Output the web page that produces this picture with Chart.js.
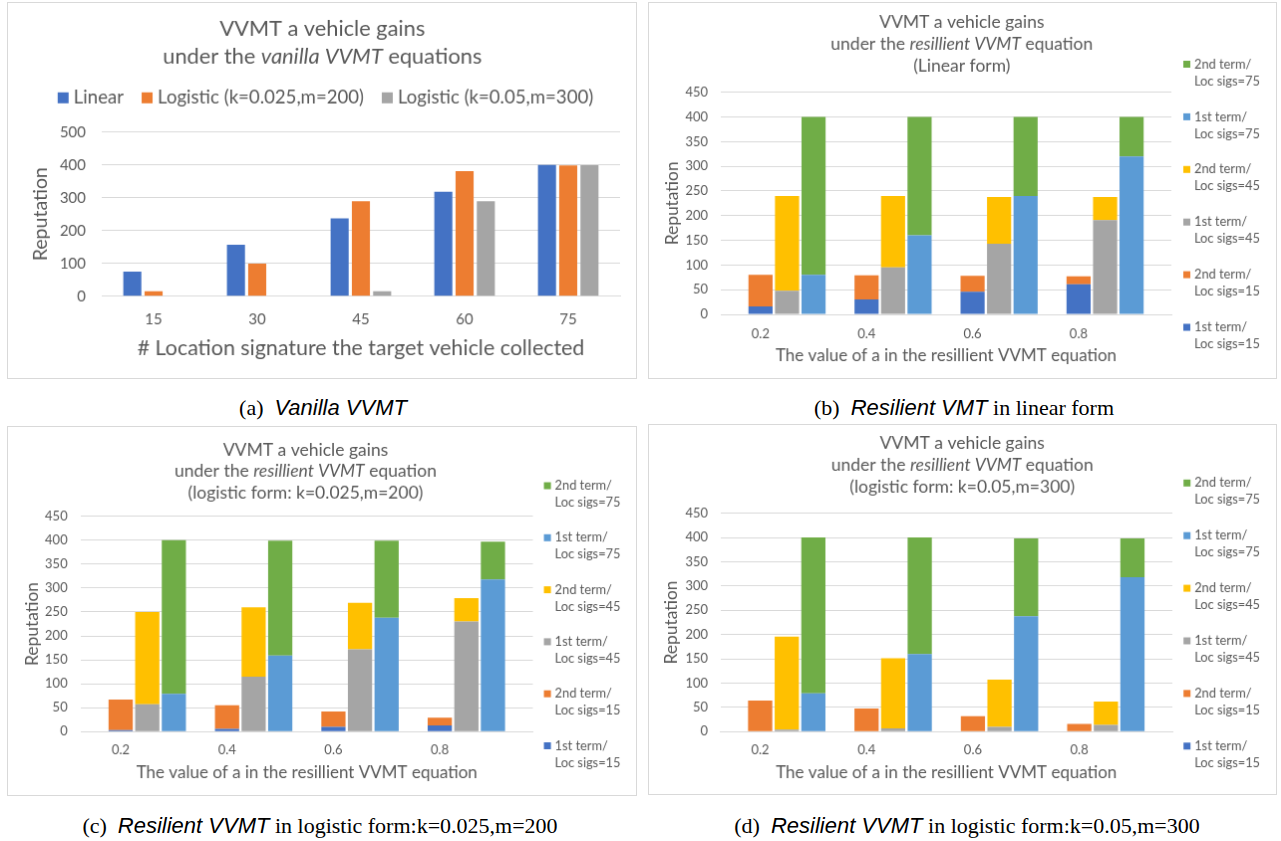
<!DOCTYPE html>
<html>
<head>
<meta charset="utf-8">
<script src="https://cdn.jsdelivr.net/npm/chart.js@4.4.1/dist/chart.umd.min.js"></script>
<style>
body { margin: 0; background: #fff; width: 1281px; height: 841px; position: relative; overflow: hidden; }
canvas { position: absolute; border: 1px solid #d9d9d9; }
.cap { position: absolute; font-family: 'Liberation Serif', serif; font-size: 22px; line-height: 24px; color: #000; white-space: nowrap; transform: translateX(-50%); }
.cap i { font-family: 'Liberation Sans', sans-serif; }
</style>
</head>
<body>
<canvas id="chartA" width="630" height="377" style="left:7px;top:2px"></canvas>
<canvas id="chartB" width="629" height="377" style="left:648px;top:2px"></canvas>
<canvas id="chartC" width="630" height="370" style="left:7px;top:426px"></canvas>
<canvas id="chartD" width="629" height="371" style="left:648px;top:424px"></canvas>
<div class="cap" style="left:323px;top:396px">(a)&nbsp; <i>Vanilla VVMT</i></div>
<div class="cap" style="left:964px;top:396px">(b)&nbsp; <i>Resilient VMT</i> in linear form</div>
<div class="cap" style="left:320px;top:814px">(c)&nbsp; <i>Resilient VVMT</i> in logistic form:k=0.025,m=200</div>
<div class="cap" style="left:967px;top:814px">(d)&nbsp; <i>Resilient VVMT</i> in logistic form:k=0.05,m=300</div>
<script>
// (a) vanilla VVMT
var locSigs = ['15', '30', '45', '60', '75'];
var vanLinear = [75, 157, 237, 318, 400];
var vanLogistic1 = [15, 99, 289, 381, 398];
var vanLogistic2 = [0, 0, 15, 289, 399];

// x values of a in the resilient equation
var aValues = ['0.2', '0.4', '0.6', '0.8'];

// (b) linear form
var linFirst15 = [16, 30, 46, 61];
var linSecond15 = [64, 49, 32, 16];
var linFirst45 = [48, 95, 143, 191];
var linSecond45 = [192, 145, 95, 47];
var linFirst75 = [80, 160, 240, 320];
var linSecond75 = [320, 240, 160, 80];

// (c) logistic k=0.025, m=200
var logAFirst15 = [3, 6, 10, 13];
var logASecond15 = [64, 49, 32, 16];
var logAFirst45 = [57, 115, 172, 230];
var logASecond45 = [193, 145, 97, 49];
var logAFirst75 = [79, 159, 238, 318];
var logASecond75 = [321, 240, 161, 79];

// (d) logistic k=0.05, m=300
var logBFirst15 = [0, 0, 0, 0];
var logBSecond15 = [64, 48, 32, 16];
var logBFirst45 = [4, 7, 10, 14];
var logBSecond45 = [192, 144, 97, 48];
var logBFirst75 = [79, 160, 238, 318];
var logBSecond75 = [321, 240, 160, 80];

var FONT = 'Lato';
var GREY = '#595959';
var GRID = '#d9d9d9';

// titles and legends drawn on the canvas (mixed italic text)
var panelText = {
    id: 'panelText',
    afterDraw: function(chart, args, opts) {
        var ctx = chart.ctx;
        ctx.save();
        ctx.fillStyle = GREY;
        ctx.textBaseline = 'middle';
        ctx.textAlign = 'left';
        opts.title.forEach(function(line, i) {
            var parts = line.map(function(p) {
                ctx.font = (p[1] ? 'italic ' : '') + opts.titleSize + 'px ' + FONT;
                return { t: p[0], f: ctx.font, w: ctx.measureText(p[0]).width };
            });
            var total = parts.reduce(function(s, p) { return s + p.w; }, 0);
            var x = opts.titleX - total / 2;
            parts.forEach(function(p) {
                ctx.font = p.f;
                ctx.fillText(p.t, x, opts.titleY[i]);
                x += p.w;
            });
        });
        var lg = opts.legend;
        var sets = chart.data.datasets;
        ctx.font = lg.size + 'px ' + FONT;
        if (lg.side) {
            sets.slice().reverse().forEach(function(ds, i) {
                var y = lg.y + i * lg.step;
                var cut = ds.label.indexOf('/') + 1;
                ctx.fillStyle = ds.backgroundColor;
                ctx.fillRect(lg.x, y - lg.box / 2, lg.box, lg.box);
                ctx.fillStyle = GREY;
                ctx.fillText(ds.label.slice(0, cut), lg.textX, y);
                ctx.fillText(ds.label.slice(cut), lg.textX, y + lg.lineGap);
            });
        } else {
            var widths = sets.map(function(ds) { return ctx.measureText(ds.label).width; });
            var total = widths.reduce(function(s, w) { return s + w + lg.box + lg.gap; }, 0) + lg.space * (sets.length - 1);
            var x = lg.x - total / 2;
            sets.forEach(function(ds, i) {
                ctx.fillStyle = ds.backgroundColor;
                ctx.fillRect(x, lg.y - lg.box / 2, lg.box, lg.box);
                ctx.fillStyle = GREY;
                ctx.fillText(ds.label, x + lg.box + lg.gap, lg.y);
                x += lg.box + lg.gap + widths[i] + lg.space;
            });
        }
        ctx.restore();
    }
};

function axisFont(size) { return { family: FONT, size: size }; }

// vanilla chart
new Chart(document.getElementById('chartA'), {
    type: 'bar',
    data: {
        labels: locSigs,
        datasets: [
            { label: 'Linear', data: vanLinear, backgroundColor: '#4472C4' },
            { label: 'Logistic (k=0.025,m=200)', data: vanLogistic1, backgroundColor: '#ED7D31' },
            { label: 'Logistic (k=0.05,m=300)', data: vanLogistic2, backgroundColor: '#A5A5A5' }
        ]
    },
    options: {
        responsive: false,
        animation: false,
        categoryPercentage: 0.615,
        barPercentage: 0.85,
        layout: { padding: { top: 129.7, right: 16, bottom: 0, left: 0 } },
        plugins: {
            legend: { display: false },
            tooltip: { enabled: false },
            panelText: {
                title: [[['VVMT a vehicle gains']], [['under the '], ['vanilla VVMT', true], [' equations']]],
                titleX: 315.3, titleY: [26.3, 54.3], titleSize: 21.8,
                legend: { side: false, x: 318.5, y: 95.3, size: 18.6, box: 11, gap: 5, space: 18 }
            }
        },
        scales: {
            x: {
                grid: { display: false, drawTicks: false },
                border: { color: GRID },
                ticks: { color: GREY, font: axisFont(15), padding: 14.3 },
                title: { display: true, text: '# Location signature the target vehicle collected', color: GREY,
                         font: axisFont(21.4), padding: { top: 0, bottom: 17.2 } },
                afterFit: function(s) { s.height = 82.3; }
            },
            y: {
                min: 0, max: 500,
                grid: { color: GRID, drawTicks: false },
                border: { display: false },
                ticks: { stepSize: 100, color: GREY, font: axisFont(15), padding: 16 },
                title: { display: true, text: 'Reputation', color: GREY, font: axisFont(19.5), padding: { top: 21.3, bottom: 0 } },
                afterFit: function(s) { s.width = 94; }
            }
        }
    },
    plugins: [panelText]
});

// resilient charts: 17 slots, one blank slot between groups of three stacks
function slotData(values, member) {
    var out = [];
    for (var s = 0; s < aValues.length * 4 + 1; s++) out.push(null);
    values.forEach(function(v, i) { out[1 + 4 * i + member] = v; });
    return out;
}
var slotLabels = [''];
aValues.forEach(function(a) { slotLabels.push(a, '', '', ''); });

function termSets(f15, s15, f45, s45, f75, s75) {
    return [
        { label: '1st term/Loc sigs=15', data: slotData(f15, 0), backgroundColor: '#4472C4' },
        { label: '2nd term/Loc sigs=15', data: slotData(s15, 0), backgroundColor: '#ED7D31' },
        { label: '1st term/Loc sigs=45', data: slotData(f45, 1), backgroundColor: '#A5A5A5' },
        { label: '2nd term/Loc sigs=45', data: slotData(s45, 1), backgroundColor: '#FFC000' },
        { label: '1st term/Loc sigs=75', data: slotData(f75, 2), backgroundColor: '#5B9BD5' },
        { label: '2nd term/Loc sigs=75', data: slotData(s75, 2), backgroundColor: '#70AD47' }
    ];
}

function resilientChart(id, sets, third, g) {
    return new Chart(document.getElementById(id), {
        type: 'bar',
        data: { labels: slotLabels, datasets: sets },
        options: {
            responsive: false,
            animation: false,
            categoryPercentage: 1,
            barPercentage: 0.91,
            layout: { padding: { top: g.top, right: g.right, bottom: 0, left: 0 } },
            plugins: {
                legend: { display: false },
                tooltip: { enabled: false },
                panelText: {
                    title: [[['VVMT a vehicle gains']], [['under the '], ['resillient VVMT', true], [' equation']], [[third]]],
                    titleX: g.titleX, titleY: g.titleY, titleSize: 17.5,
                    legend: { side: true, x: g.legX, textX: g.legX + 11, y: g.legY, step: g.legStep, lineGap: 17, size: 12.8, box: 7 }
                }
            },
            scales: {
                x: {
                    stacked: true,
                    grid: { display: false, drawTicks: false },
                    border: { color: GRID },
                    ticks: { color: GREY, font: axisFont(13), padding: g.xTickPad, autoSkip: false, maxRotation: 0 },
                    title: { display: true, text: 'The value of a in the resillient VVMT equation', color: GREY,
                             font: axisFont(17), padding: { top: 0, bottom: g.xTitlePad } },
                    afterFit: function(s) { s.height = g.xHeight; }
                },
                y: {
                    stacked: true,
                    min: 0, max: 450,
                    grid: { color: GRID, drawTicks: false },
                    border: { display: false },
                    ticks: { stepSize: 50, color: GREY, font: axisFont(13), padding: g.yTickPad },
                    title: { display: true, text: 'Reputation', color: GREY, font: axisFont(17.4), padding: { top: g.yTitlePad, bottom: 0 } },
                    afterFit: function(s) { s.width = g.yWidth; }
                }
            }
        },
        plugins: [panelText]
    });
}

resilientChart('chartB', termSets(linFirst15, linSecond15, linFirst45, linSecond45, linFirst75, linSecond75), '(Linear form)', {
    top: 89.7, right: 105, yWidth: 72, xHeight: 64, yTickPad: 13, yTitlePad: 13.3, xTickPad: 11.9, xTitlePad: 12.3,
    titleX: 313.8, titleY: [19.7, 41.3, 63.7], legX: 536, legY: 61.5, legStep: 52.9
});
resilientChart('chartC', termSets(logAFirst15, logASecond15, logAFirst45, logASecond45, logAFirst75, logASecond75), '(logistic form: k=0.025,m=200)', {
    top: 89.7, right: 103.5, yWidth: 73, xHeight: 63.7, yTickPad: 13.3, yTitlePad: 13.6, xTickPad: 10.6, xTitlePad: 12.5,
    titleX: 298.5, titleY: [23, 44.7, 66.3], legX: 537.6, legY: 59, legStep: 52.3
});
resilientChart('chartD', termSets(logBFirst15, logBSecond15, logBFirst45, logBSecond45, logBFirst75, logBSecond75), '(logistic form: k=0.05,m=300)', {
    top: 88.7, right: 104, yWidth: 71.5, xHeight: 62.7, yTickPad: 12.5, yTitlePad: 12, xTickPad: 10.6, xTitlePad: 11.5,
    titleX: 314.2, titleY: [18.3, 40.7, 62.7], legX: 536.2, legY: 58.3, legStep: 52.9
});
</script>
</body>
</html>
